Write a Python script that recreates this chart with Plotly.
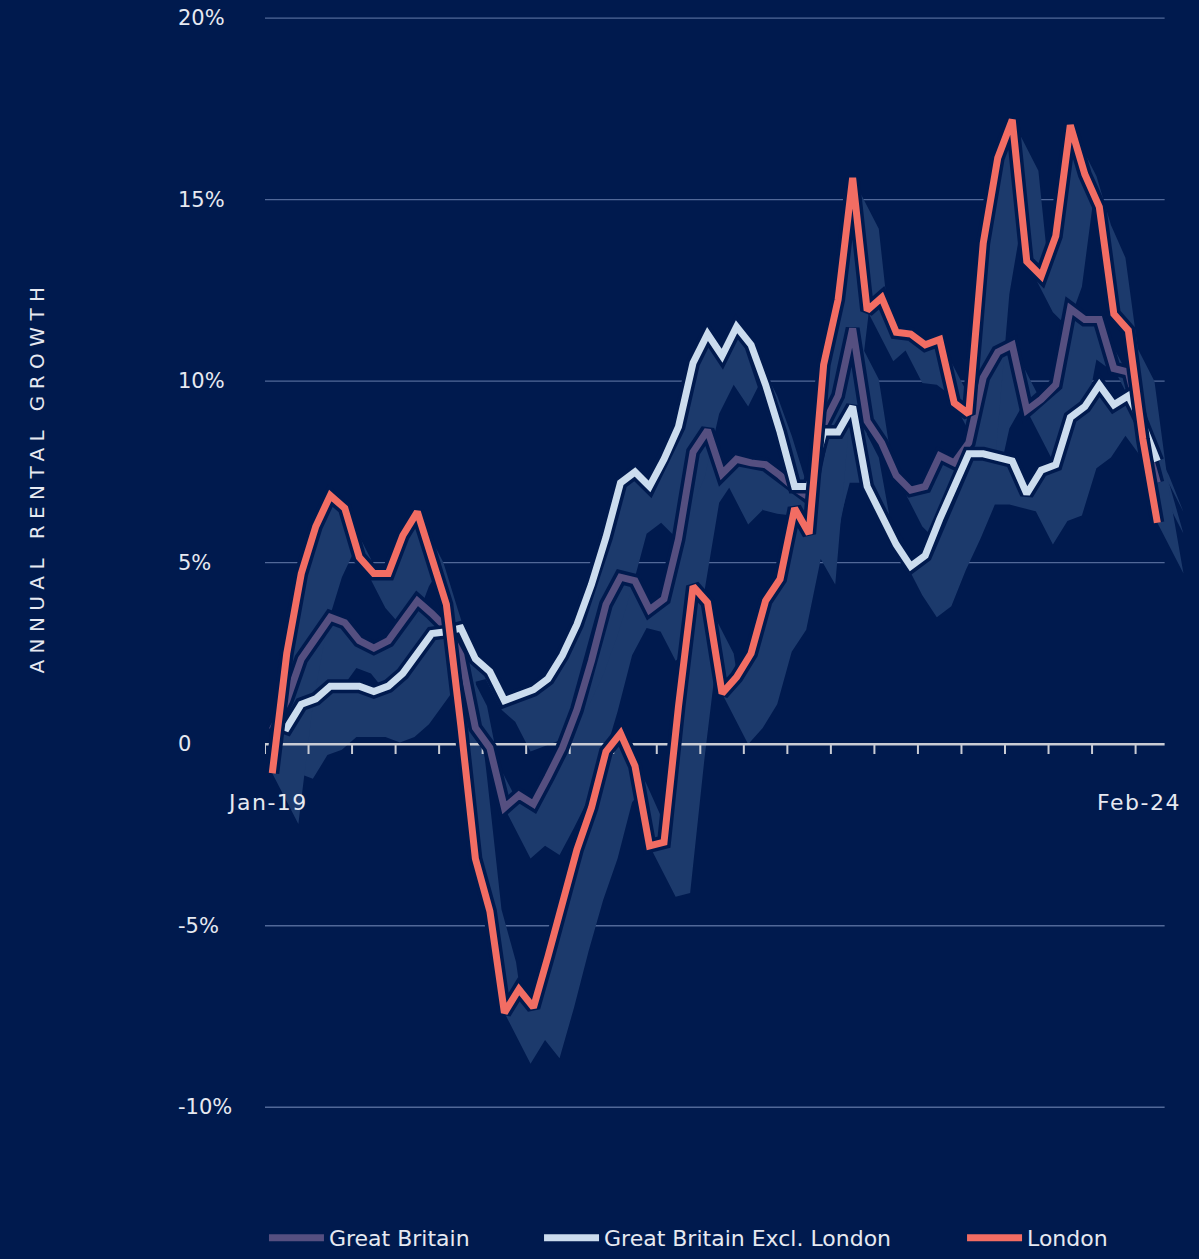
import pandas as pd
import plotly.graph_objects as go

# ---------------- data (annual rental growth, %) ----------------
months = list(pd.date_range("2019-01-01", "2024-02-01", freq="MS").strftime("%b-%y"))

great_britain = [0.4, 1.2, 2.35, 2.95, 3.5, 3.35, 2.85, 2.65, 2.85, 3.4,
                 3.95, 3.6, 3.2, 2.45, 0.45, -0.1, -1.75, -1.4, -1.65, -0.9,
                 -0.1, 0.95, 2.3, 3.85, 4.6, 4.5, 3.7, 4.0, 5.65, 8.05,
                 8.65, 7.45, 7.85, 7.75, 7.7, 7.4, 7.05, 6.8, 8.8, 9.6,
                 11.45, 8.9, 8.3, 7.4, 7.0, 7.1, 7.95, 7.75, 8.3, 10.1,
                 10.8, 11.0, 9.2, 9.5, 9.9, 12.0, 11.7, 11.7, 10.35, 10.25,
                 8.6, 7.2]

gb_excl_london = [0.6, 0.45, 1.1, 1.25, 1.6, 1.6, 1.6, 1.45, 1.6, 1.95,
                  2.5, 3.05, 3.1, 3.2, 2.35, 2.0, 1.2, 1.35, 1.5, 1.8,
                  2.45, 3.3, 4.4, 5.7, 7.2, 7.5, 7.1, 7.85, 8.75, 10.5,
                  11.3, 10.7, 11.5, 11.0, 9.9, 8.6, 7.1, 7.1, 8.6, 8.6,
                  9.3, 7.1, 6.3, 5.5, 4.9, 5.2, 6.2, 7.05, 8.0, 8.0,
                  7.9, 7.8, 6.9, 7.55, 7.7, 9.0, 9.3, 9.9, 9.35, 9.6,
                  8.8, 7.8]

london = [-0.8, 2.5, 4.7, 6.0, 6.85, 6.5, 5.15, 4.7, 4.7, 5.75,
          6.4, 5.1, 3.85, 0.5, -3.15, -4.6, -7.4, -6.75, -7.25, -5.85,
          -4.3, -2.9, -1.75, -0.2, 0.3, -0.6, -2.8, -2.7, 1.05, 4.35,
          3.9, 1.4, 1.85, 2.5, 3.95, 4.55, 6.5, 5.8, 10.45, 12.25,
          15.6, 11.95, 12.3, 11.35, 11.3, 11.0, 11.15, 9.4, 9.1, 13.8,
          16.15, 17.2, 13.3, 12.9, 14.0, 17.05, 15.7, 14.8, 11.85, 11.4,
          8.4, 6.1]

y_ticks = [20, 15, 10, 5, 0, -5, -10]
y_tick_labels = ["20%", "15%", "10%", "5%", "0", "-5%", "-10%"]
x_labels = [months[0], months[-1]]
series_names = ["Great Britain", "Great Britain Excl. London", "London"]
y_title = "ANNUAL RENTAL GROWTH"

# ---------------- style ----------------
BG = "#001a4e"
SHADOW = "#1c3a6c"
GRID = "#516898"
AXIS = "#c9ccd4"
TEXT = "#e6e9f1"
COLORS = ["#554f80", "#cbdcee", "#f26d63"]
FONT = "DejaVu Sans"
SHIFT_X, SHIFT_Y = 1.8, -1.4   # 3-D extrusion offset of the shadow

x = list(range(len(months)))
all_series = [great_britain, gb_excl_london, london]

fig = go.Figure()

# extruded shadow ribbons (one polygon per segment, consistent winding)
for vals in all_series:
    xs, ys = [], []
    for i in range(len(vals) - 1):
        p0 = (x[i], vals[i])
        p1 = (x[i + 1], vals[i + 1])
        p2 = (x[i + 1] + SHIFT_X, vals[i + 1] + SHIFT_Y)
        p3 = (x[i] + SHIFT_X, vals[i] + SHIFT_Y)
        cross = (p1[0] - p0[0]) * SHIFT_Y - (p1[1] - p0[1]) * SHIFT_X
        poly = [p0, p1, p2, p3] if cross >= 0 else [p0, p3, p2, p1]
        for px, py in poly + [poly[0]]:
            xs.append(px)
            ys.append(py)
        xs.append(None)
        ys.append(None)
    fig.add_trace(go.Scatter(x=xs, y=ys, mode="lines", fill="toself",
                             fillcolor=SHADOW, line=dict(width=0, color=SHADOW, simplify=False),
                             hoverinfo="skip", showlegend=False))

# x axis line at zero + ticks
fig.add_trace(go.Scatter(x=[-0.5, 61.5], y=[0, 0], mode="lines",
                         line=dict(color=AXIS, width=2.5), hoverinfo="skip", showlegend=False))
tx, ty = [], []
for k in range(21):
    tx += [-0.5 + 3 * k, -0.5 + 3 * k, None]
    ty += [0, -0.27, None]
fig.add_trace(go.Scatter(x=tx, y=ty, mode="lines", line=dict(color=AXIS, width=2),
                         hoverinfo="skip", showlegend=False))

# lines with dark halo
legends = ["legend", "legend2", "legend3"]
for vals, name, color, lg in zip(all_series, series_names, COLORS, legends):
    fig.add_trace(go.Scatter(x=x, y=vals, mode="lines", line=dict(color=BG, width=14),
                             hoverinfo="skip", showlegend=False))
    fig.add_trace(go.Scatter(x=x, y=vals, mode="lines", name=name, legend=lg,
                             line=dict(color=color, width=7)))

# gridlines
for v in y_ticks:
    if v != 0:
        fig.add_shape(type="line", xref="x", yref="y", x0=-0.5, x1=61.5, y0=v, y1=v,
                      line=dict(color=GRID, width=1.3), layer="below")

annotations = []
for v, t in zip(y_ticks, y_tick_labels):
    annotations.append(dict(x=-0.0948, xref="paper", y=v, yref="y", text=t, showarrow=False,
                            xanchor="left", yanchor="middle",
                            font=dict(family=FONT, size=21, color=TEXT)))
for xv, t in zip([-0.35, 59.75], x_labels):
    annotations.append(dict(x=xv, xref="x", y=-1.6, yref="y",
                            text='<span style="letter-spacing:1.5px">' + t + "</span>",
                            showarrow=False, xanchor="center", yanchor="middle",
                            font=dict(family=FONT, size=22, color=TEXT)))
annotations.append(dict(x=-0.244, xref="paper", y=7.35, yref="y", showarrow=False,
                        text='<span style="letter-spacing:6.4px">' + y_title + "</span>",
                        textangle=-90, xanchor="center", yanchor="middle",
                        font=dict(family=FONT, size=20, color=TEXT)))

leg_common = dict(orientation="h", yanchor="bottom", xanchor="left", bgcolor="rgba(0,0,0,0)",
                  font=dict(family=FONT, size=22, color=TEXT), itemwidth=55,
                  borderwidth=0)

fig.update_layout(
    width=1199, height=1259,
    margin=dict(l=265, r=0, t=0, b=0, pad=0),
    paper_bgcolor=BG, plot_bgcolor=BG,
    xaxis=dict(range=[-0.5, 63.87], visible=False, showgrid=False, zeroline=False, fixedrange=True),
    yaxis=dict(range=[-14.18, 20.5], visible=False, showgrid=False, zeroline=False, fixedrange=True),
    annotations=annotations,
    legend=dict(x=-0.0011, y=0.0, **leg_common),
    legend2=dict(x=0.2934, y=0.0, **leg_common),
    legend3=dict(x=0.7463, y=0.0, **leg_common),
    showlegend=True,
)

fig.write_html("out.html")
